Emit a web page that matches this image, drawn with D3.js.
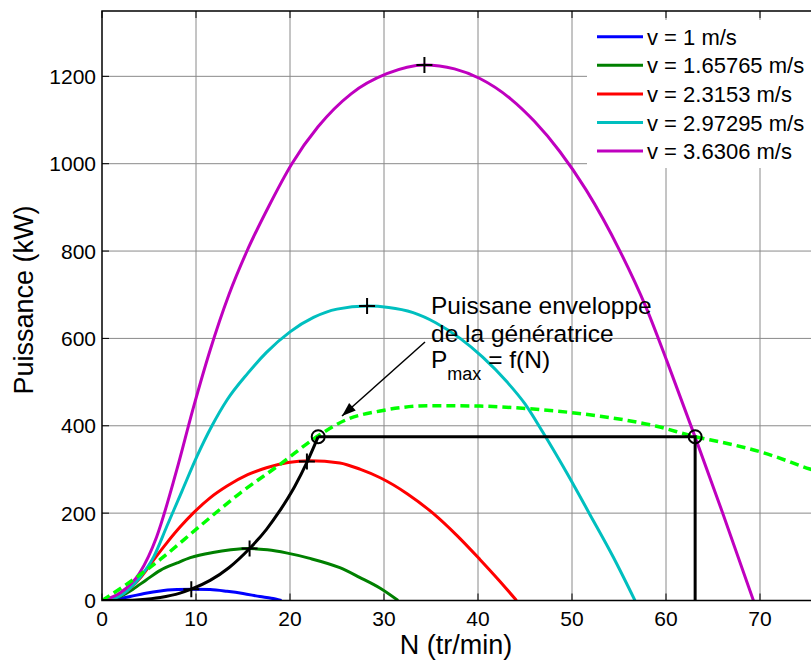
<!DOCTYPE html>
<html><head><meta charset="utf-8">
<script src="https://cdn.jsdelivr.net/npm/d3@7"></script>
<style>body{margin:0;background:#fff}svg{display:block}text{font-family:"Liberation Sans",Arial,sans-serif}</style>
</head><body>
<svg id="c" width="811" height="661"></svg>
<script>
// ---- data ----
const xTicks = [0, 10, 20, 30, 40, 50, 60, 70];
const yTicks = [0, 200, 400, 600, 800, 1000, 1200];
const legendLabels = ["v = 1 m/s", "v = 1.65765 m/s", "v = 2.3153 m/s", "v = 2.97295 m/s", "v = 3.6306 m/s"];
const colors = ["#0000ff", "#008000", "#ff0000", "#00bfbf", "#bf00bf"];

const n_v1 = [0, 1.5, 3, 4.5, 6.2, 8, 9.7, 11.5, 13.3, 15, 16.8, 18, 19.1];
const p_v1 = [0, 3, 9, 16, 22, 25, 26, 25, 21, 16, 9, 5, 0];
const n_v2 = [0, 0.9, 2, 3.3, 4.7, 6.2, 8, 9.4, 11.8, 13.7, 15.7, 17.6, 19.6, 22, 25.3, 27.4, 29.6, 31.5];
const p_v2 = [0, 2, 10, 26, 47, 69, 86, 98, 110, 116, 119, 116, 109, 97, 75, 53, 28, 0];
const n_v3 = [0, 1.5, 3, 4.2, 5.5, 6.9, 8.3, 9.7, 11.5, 13.3, 15.5, 17.5, 19.8, 22.1, 25.3, 27.5, 29.6, 32.5, 35.2, 37.8, 40.2, 42.2, 44.1];
const p_v3 = [0, 7, 28, 55, 93, 132, 168, 200, 235, 262, 288, 304, 316, 320, 315, 300, 281, 244, 200, 148, 94, 47, 0];
const n_v4 = [0, 1.6, 3, 4, 5.5, 6.9, 8.5, 10.1, 11.7, 13.3, 15.5, 17.5, 20, 22.5, 25, 28.2, 30.5, 33.1, 35.5, 38.1, 40.5, 43.1, 45, 46.9, 49.5, 51.9, 54.4, 56.7];
const p_v4 = [0, 7, 28, 52, 100, 170, 250, 330, 400, 459, 520, 568, 615, 648, 667, 674, 671, 659, 636, 600, 557, 500, 450, 385, 290, 197, 99, 0];
const n_v5 = [0, 1.9, 4, 5.8, 7.9, 9.7, 11.5, 13.5, 15.4, 17.8, 20.2, 23, 26.5, 30.3, 34.3, 37.5, 40.2, 43.5, 46, 48.7, 51.5, 55.1, 57.9, 60.1, 63.1, 66.1, 69.3];
const p_v5 = [0, 17, 63, 145, 295, 440, 573, 700, 799, 905, 1000, 1085, 1160, 1206, 1226, 1217, 1195, 1148, 1097, 1028, 940, 800, 670, 548, 374, 196, 0];

const n_opt = [0, 2.6, 4, 6.2, 8.3, 9.5, 11.5, 13.5, 15.7, 17.5, 18.9, 20.5, 21.8, 23];
const p_opt = [0, 0.5, 2, 7, 17, 26, 46, 75, 119, 163, 205, 261, 316, 375];

const n_env = [0, 2.6, 6.2, 10.4, 14.7, 18.9, 23.2, 26, 29.6, 34.9, 40.2, 46.6, 53, 59, 63.1, 66, 70.4, 75.3, 76];
const p_env = [0, 37, 94, 170, 246, 311, 380, 414, 434, 446, 445, 437, 422, 399, 375, 362, 338, 301, 296];

const peakN = [9.5, 15.7, 21.8, 28.2, 34.3];
const peakP = [26, 119, 318, 674, 1226];

const limN = [23, 63.1, 63.1];
const limP = [375, 375, 0];

const annotation = ["Puissane enveloppe", "de la génératrice"];

// ---- layout ----
const svg = d3.select("#c");
const L = 102, T = 11, B = 600.5, R = 102 + 76 * 9.4;
const x = d3.scaleLinear().domain([0, 76]).range([L, R]);
const y = d3.scaleLinear().domain([0, 1350]).range([B, B - 1350 * 0.4368]);

svg.append("defs").append("clipPath").attr("id", "clip")
  .append("rect").attr("x", L).attr("y", T).attr("width", R - L).attr("height", B - T);

// grid
const grid = svg.append("g").attr("stroke", "#8a8a8a").attr("stroke-width", 1);
xTicks.filter(d => d > 0).forEach(d => grid.append("line")
  .attr("x1", x(d)).attr("x2", x(d)).attr("y1", T).attr("y2", B));
yTicks.filter(d => d > 0).forEach(d => grid.append("line")
  .attr("x1", L).attr("x2", R).attr("y1", y(d)).attr("y2", y(d)));

const plot = svg.append("g").attr("clip-path", "url(#clip)");
const line = d3.line().x(d => x(d[0])).y(d => y(d[1])).curve(d3.curveMonotoneX);
const zip = (a, b) => a.map((v, i) => [v, b[i]]);

const series = [zip(n_v1, p_v1), zip(n_v2, p_v2), zip(n_v3, p_v3), zip(n_v4, p_v4), zip(n_v5, p_v5)];
series.forEach((s, i) => plot.append("path").attr("d", line(s))
  .attr("fill", "none").attr("stroke", colors[i]).attr("stroke-width", 3));

// envelope
plot.append("path").attr("d", line(zip(n_env, p_env)))
  .attr("fill", "none").attr("stroke", "#00ff00").attr("stroke-width", 3.5)
  .attr("stroke-dasharray", "9,5");

// optimal curve + limit lines
plot.append("path").attr("d", line(zip(n_opt, p_opt)))
  .attr("fill", "none").attr("stroke", "#000").attr("stroke-width", 3);
plot.append("path").attr("d", d3.line().x(d => x(d[0])).y(d => y(d[1]))(zip(limN, limP)))
  .attr("fill", "none").attr("stroke", "#000").attr("stroke-width", 3);

// peak markers
peakN.forEach((n, i) => {
  const cx = x(n), cy = y(peakP[i]);
  plot.append("path").attr("d", `M${cx - 8},${cy}H${cx + 8}M${cx},${cy - 8}V${cy + 8}`)
    .attr("stroke", "#000").attr("stroke-width", 2);
});
// circles
[0, 1].forEach(i => plot.append("circle").attr("cx", x(limN[i])).attr("cy", y(limP[i])).attr("r", 6.5)
  .attr("fill", "none").attr("stroke", "#000").attr("stroke-width", 2));

// legend
const lg = svg.append("g");
lg.append("rect").attr("x", 587).attr("y", 20).attr("width", 240).attr("height", 148).attr("fill", "#fff");
legendLabels.forEach((t, i) => {
  const yy = 36.7 + i * 28.6;
  lg.append("line").attr("x1", 597).attr("x2", 643).attr("y1", yy).attr("y2", yy)
    .attr("stroke", colors[i]).attr("stroke-width", 3);
  lg.append("text").attr("x", 647).attr("y", yy + 8).attr("font-size", 22).text(t);
});

// frame
const fr = svg.append("g").attr("stroke", "#000").attr("stroke-width", 1.5).attr("fill", "none");
fr.append("path").attr("d", `M${R},${T}H${L}V${B}H${R}`);
xTicks.forEach(d => {
  fr.append("line").attr("x1", x(d)).attr("x2", x(d)).attr("y1", B).attr("y2", B - 7).attr("stroke-width", 1);
  fr.append("line").attr("x1", x(d)).attr("x2", x(d)).attr("y1", T).attr("y2", T + 7).attr("stroke-width", 1);
});
yTicks.forEach(d => fr.append("line").attr("x1", L).attr("x2", L + 7).attr("y1", y(d)).attr("y2", y(d)).attr("stroke-width", 1));

// tick labels
xTicks.forEach(d => svg.append("text").attr("x", x(d)).attr("y", 626).attr("text-anchor", "middle")
  .attr("font-size", 21).text(d));
yTicks.forEach(d => svg.append("text").attr("x", 96).attr("y", y(d) + 7.5).attr("text-anchor", "end")
  .attr("font-size", 21).text(d));

// axis labels
svg.append("text").attr("x", 456).attr("y", 654).attr("text-anchor", "middle").attr("font-size", 27).text("N (tr/min)");
svg.append("text").attr("transform", "translate(33,300) rotate(-90)").attr("text-anchor", "middle")
  .attr("font-size", 27).text("Puissance (kW)");

// annotation
svg.append("text").attr("x", 431).attr("y", 314).attr("font-size", 24.5).text(annotation[0]);
svg.append("text").attr("x", 431).attr("y", 342).attr("font-size", 24.5).text(annotation[1]);
const t3 = svg.append("text").attr("x", 431).attr("y", 368).attr("font-size", 24.5);
t3.append("tspan").text("P");
t3.append("tspan").attr("dy", 12).attr("font-size", 18).text("max");
t3.append("tspan").attr("dy", -12).text(" = f(N)");

// arrow
const ax1 = 425, ay1 = 342, ax2 = 342, ay2 = 416;
svg.append("line").attr("x1", ax1).attr("y1", ay1).attr("x2", ax2).attr("y2", ay2)
  .attr("stroke", "#000").attr("stroke-width", 1.5);
const ang = Math.atan2(ay2 - ay1, ax2 - ax1), hl = 14, hw = 5;
const bx = ax2 - hl * Math.cos(ang), by = ay2 - hl * Math.sin(ang);
svg.append("path").attr("d", `M${ax2},${ay2}L${bx + hw * Math.sin(ang)},${by - hw * Math.cos(ang)}L${bx - hw * Math.sin(ang)},${by + hw * Math.cos(ang)}Z`)
  .attr("fill", "#000");
</script>
</body></html>
